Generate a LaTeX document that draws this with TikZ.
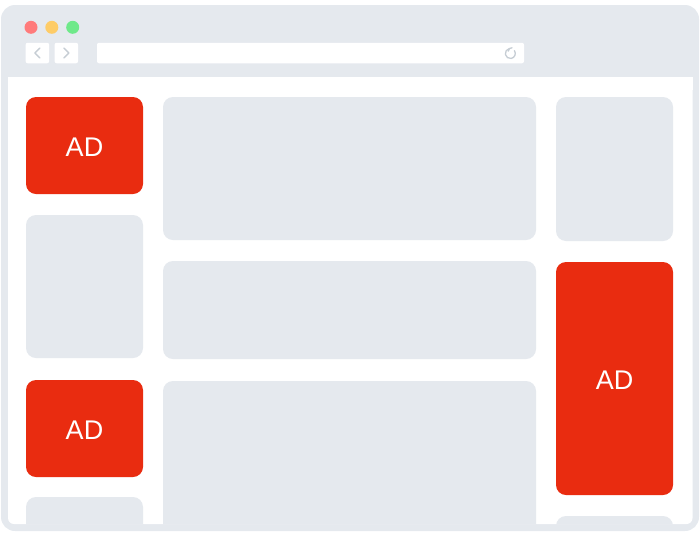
\documentclass[tikz,border=0pt]{standalone}
\usepackage{fontspec}
\setmainfont{Liberation Sans}
\usetikzlibrary{arrows.meta}
\definecolor{framegray}{HTML}{E5E9EE}
\definecolor{boxgray}{HTML}{E5E9EE}
\definecolor{adred}{HTML}{E92C10}
\definecolor{iconGray}{HTML}{C6CDD4}
\definecolor{lightRed}{HTML}{FF7B7B}
\definecolor{lightYellow}{HTML}{FECC67}
\definecolor{lightGreen}{HTML}{6FE98A}
\newcommand{\adtext}{\raisebox{-2pt}[\height][0pt]{AD}}
\tikzset{
  panel/.style={rectangle, rounded corners=10pt, inner sep=0pt, fill=boxgray, draw=none},
  adpanel/.style={panel, fill=adred, text=white, font=\fontsize{27}{30}\selectfont},
  navbtn/.style={rectangle, rounded corners=2pt, fill=white, inner sep=0pt, minimum width=23.5pt, minimum height=20.5pt},
  dot/.style={circle, inner sep=0pt, minimum size=13pt},
  icon/.style={draw=iconGray, line width=1.4pt, line cap=round, line join=round}
}
\begin{document}
\begin{tikzpicture}[x=1pt,y=-1pt]
\useasboundingbox (0,0) rectangle (700,536);
% browser frame
\fill[framegray, rounded corners=14pt] (1,5) rectangle (699,531);
\fill[white, rounded corners=6pt] (8,77) -- (692.5,77) -- (692.5,524) -- (8,524) -- cycle;
\fill[white] (8,77) rectangle (692.5,90);
% traffic lights
\node[dot, fill=lightRed] (red) at (31,27.3) {};
\node[dot, fill=lightYellow] (yellow) at (51.8,27.3) {};
\node[dot, fill=lightGreen] (green) at (72.7,27.3) {};
% nav buttons
\node[navbtn] (back) at (37.4,53) {};
\node[navbtn] (fwd) at (66.3,53) {};
\draw[icon] ([xshift=2.5pt,yshift=5pt]back.center) -- ([xshift=-2.5pt]back.center) -- ([xshift=2.5pt,yshift=-5pt]back.center);
\draw[icon] ([xshift=-2.5pt,yshift=5pt]fwd.center) -- ([xshift=2.5pt]fwd.center) -- ([xshift=-2.5pt,yshift=-5pt]fwd.center);
% address bar
\node[rectangle, rounded corners=2pt, fill=white, inner sep=0pt, minimum width=427pt, minimum height=20.5pt] (addr) at (310.5,53) {};
\coordinate (reload) at (510.3,53.5);
\draw[icon, line width=1.3pt] ([shift={(100:5pt)}]reload) arc[start angle=100, end angle=395, radius=5pt];
\draw[icon, line width=1.3pt] ([shift={(100:5pt)}]reload) ++(-1.2pt,-2.6pt) -- ++(1.2pt,2.6pt) -- ++(2.6pt,0.8pt);
% content
\begin{scope}
\clip[rounded corners=6pt] (8,77) -- (692.5,77) -- (692.5,524) -- (8,524) -- cycle;
\node[adpanel, minimum width=117pt, minimum height=97pt] (ad1) at (84.5,145.5) {\adtext};
\node[panel, minimum width=117pt, minimum height=143pt] (l2) at (84.5,286.5) {};
\node[adpanel, minimum width=117pt, minimum height=97pt] (ad2) at (84.5,428.5) {\adtext};
\node[panel, minimum width=117pt, minimum height=143pt] (l4) at (84.5,568.5) {};
\node[panel, minimum width=373pt, minimum height=143pt] (m1) at (349.5,168.5) {};
\node[panel, minimum width=373pt, minimum height=98pt] (m2) at (349.5,310) {};
\node[panel, minimum width=373pt, minimum height=240pt] (m3) at (349.5,501) {};
\node[panel, minimum width=117pt, minimum height=144pt] (r1) at (614.5,169) {};
\node[adpanel, minimum width=117pt, minimum height=233pt] (ad3) at (614.5,378.5) {\adtext};
\node[panel, minimum width=117pt, minimum height=144pt] (r3) at (614.5,588) {};
\end{scope}
\end{tikzpicture}
\end{document}
